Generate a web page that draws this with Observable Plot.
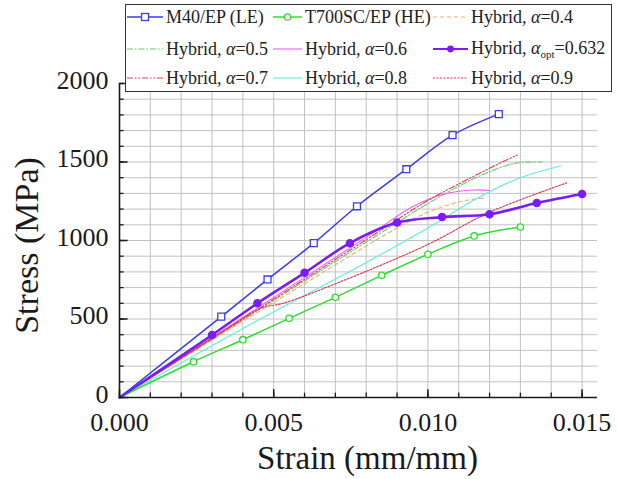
<!DOCTYPE html>
<html><head><meta charset="utf-8">
<script src="https://cdn.jsdelivr.net/npm/d3@7"></script>
<script src="https://cdn.jsdelivr.net/npm/@observablehq/plot@0.6"></script>
<style>
body{margin:0;background:#fff;}
#wrap{position:relative;width:617px;height:479px;font-family:"Liberation Serif","Times New Roman",serif;}
#legend{position:absolute;left:125px;top:4px;width:487px;height:88px;border:1.5px solid #333;background:#fff;box-sizing:border-box;}
.item{position:absolute;display:flex;align-items:center;font-size:18px;color:#222;white-space:nowrap;line-height:1;}
.item svg{margin-right:3px;}
sub{font-size:11px;vertical-align:-4px;}
</style></head><body><div id="wrap"></div>
<script>
// ---------- data ----------
const m40Strain = [0, 0.0033, 0.0048, 0.0063, 0.0077, 0.0093, 0.0108, 0.0123];
const m40Stress = [0, 515, 752, 983, 1218, 1454, 1671, 1805];
const t700Strain = [0, 0.0024, 0.0040, 0.0055, 0.0070, 0.0085, 0.0100, 0.0115, 0.0130];
const t700Stress = [0, 228, 368, 504, 638, 778, 912, 1029, 1086];
const optStrain = [0, 0.0030, 0.00447, 0.0060, 0.00747, 0.0090, 0.01046, 0.0120, 0.01353, 0.0150];
const optStress = [0, 398, 600, 794, 983, 1114, 1149, 1167, 1239, 1296];
const h04Strain = [0, 0.003, 0.006, 0.009, 0.010, 0.011, 0.0118];
const h04Stress = [0, 365, 725, 1080, 1180, 1245, 1270];
const h05Strain = [0, 0.004, 0.008, 0.010, 0.0115, 0.0125, 0.013, 0.0137];
const h05Stress = [0, 495, 990, 1235, 1395, 1475, 1497, 1500];
const h06Strain = [0, 0.004, 0.008, 0.0095, 0.0105, 0.0115, 0.012];
const h06Stress = [0, 510, 1020, 1215, 1295, 1322, 1318];
const h07Strain = [0, 0.004, 0.008, 0.010, 0.0115, 0.0122, 0.0129];
const h07Stress = [0, 500, 1005, 1255, 1410, 1480, 1545];
const h08Strain = [0, 0.004, 0.006, 0.008, 0.010, 0.0117, 0.013, 0.0143];
const h08Stress = [0, 440, 650, 860, 1080, 1280, 1400, 1475];
const h09Strain = [0, 0.0035, 0.0046, 0.0053, 0.0072, 0.010, 0.012, 0.0145];
const h09Stress = [0, 440, 570, 600, 740, 975, 1180, 1367];

const xTickVals = [0, 0.005, 0.010, 0.015];
const yTickVals = [0, 500, 1000, 1500, 2000];
const xMinorVals = d3.range(0, 0.0151, 0.001);
const yMinorVals = d3.range(0, 2001, 100);

const seriesNames = ["M40/EP (LE)", "T700SC/EP (HE)", "Hybrid, α=0.4", "Hybrid, α=0.5", "Hybrid, α=0.6",
  "Hybrid, αopt=0.632", "Hybrid, α=0.7", "Hybrid, α=0.8", "Hybrid, α=0.9"];

// ---------- styles ----------
const S = {
  m40: {stroke: "#3b3bef", width: 1.5, dash: null, marker: "square"},
  t700: {stroke: "#2fdc2f", width: 1.5, dash: null, marker: "circle"},
  h04: {stroke: "#eeb070", width: 1.1, dash: "4,3"},
  h05: {stroke: "#66cc66", width: 1.1, dash: "6,2,1.5,2"},
  h06: {stroke: "#ee5fee", width: 1.1, dash: null},
  opt: {stroke: "#7a1cf5", width: 2.6, dash: null, marker: "dot"},
  h07: {stroke: "#d83a5c", width: 1.1, dash: "6,2,1.5,2,1.5,2"},
  h08: {stroke: "#5eeedd", width: 1.1, dash: null},
  h09: {stroke: "#e0304a", width: 1.1, dash: "2,1.5"}
};

const rows = (xs, ys) => xs.map((x, i) => ({strain: x, stress: ys[i]}));
const series = [
  ["h04", rows(h04Strain, h04Stress)], ["h05", rows(h05Strain, h05Stress)], ["h06", rows(h06Strain, h06Stress)],
  ["h07", rows(h07Strain, h07Stress)], ["h08", rows(h08Strain, h08Stress)], ["h09", rows(h09Strain, h09Stress)],
  ["t700", rows(t700Strain, t700Stress)], ["opt", rows(optStrain, optStress)], ["m40", rows(m40Strain, m40Stress)]
];

const lineMarks = [];
for (const [k, data] of series) {
  const s = S[k];
  lineMarks.push(Plot.line(data, {x: "strain", y: "stress", stroke: s.stroke, strokeWidth: s.width,
    strokeDasharray: s.dash, curve: "catmull-rom"}));
  if (s.marker === "square") lineMarks.push(Plot.dot(data.slice(1), {x: "strain", y: "stress", symbol: "square", r: 3.9, stroke: s.stroke, fill: "white", strokeWidth: 1.3}));
  if (s.marker === "circle") lineMarks.push(Plot.dot(data.slice(1), {x: "strain", y: "stress", r: 3.2, stroke: s.stroke, fill: "white", strokeWidth: 1.3}));
  if (s.marker === "dot") lineMarks.push(Plot.dot(data.slice(1), {x: "strain", y: "stress", r: 3.5, fill: s.stroke, stroke: s.stroke}));
}

const ink = "#1a1a1a";
const chart = Plot.plot({
  width: 617, height: 479,
  marginLeft: 119, marginRight: 20, marginTop: 83, marginBottom: 82,
  x: {domain: [0, 0.0155], axis: null},
  y: {domain: [0, 2000], axis: null},
  style: {fontFamily: "'Liberation Serif','Times New Roman',serif", background: "white", overflow: "visible"},
  marks: [
    Plot.ruleX(xMinorVals.slice(1), {x: d => d, stroke: "#c2c2c2", strokeWidth: 1}),
    Plot.ruleY(yMinorVals.slice(1), {y: d => d, stroke: "#c2c2c2", strokeWidth: 1}),
    ...lineMarks,
    Plot.ruleY([0], {y: d => d, stroke: ink, strokeWidth: 1.6}),
    Plot.ruleX([0], {x: d => d, stroke: ink, strokeWidth: 1.6}),
    Plot.ruleX(xMinorVals, {x: d => d, y1: () => 0, y2: () => 28, stroke: ink, strokeWidth: 1.3}),
    Plot.ruleX(xTickVals, {x: d => d, y1: () => 0, y2: () => 50, stroke: ink, strokeWidth: 1.5}),
    Plot.ruleY(yMinorVals, {y: d => d, x1: () => 0, x2: () => 0.00015, stroke: ink, strokeWidth: 1.3}),
    Plot.ruleY(yTickVals, {y: d => d, x1: () => 0, x2: () => 0.00028, stroke: ink, strokeWidth: 1.5}),
    Plot.text(xTickVals, {x: d => d, y: () => 0, text: d => d3.format(".3f")(d), dy: 25, fontSize: 26, lineAnchor: "middle", fill: ink}),
    Plot.text(yTickVals, {x: () => 0, y: d => d, text: d => String(d), textAnchor: "end", lineAnchor: "middle", dx: -11, dy: -3, fontSize: 26, fill: ink}),
    Plot.text(["Strain (mm/mm)"], {frameAnchor: "bottom", text: d => d, textAnchor: "middle", lineAnchor: "middle", dx: 9, dy: 61, fontSize: 33, fill: ink}),
    Plot.text(["Stress (MPa)"], {frameAnchor: "left", text: d => d, rotate: -90, textAnchor: "middle", lineAnchor: "middle", dx: -92, dy: 5, fontSize: 34, fill: ink})
  ]
});
const wrap = document.getElementById("wrap");
wrap.appendChild(chart);

// ---------- legend ----------
const legend = document.createElement("div");
legend.id = "legend";
wrap.appendChild(legend);
const keys = ["m40", "t700", "h04", "h05", "h06", "opt", "h07", "h08", "h09"];
const colX = [[127, 36], [273, 29], [433, 35]];
const rowY = [17, 49, 78];
keys.forEach((k, i) => {
  const s = S[k];
  const [x0, w] = colX[i % 3];
  const y = rowY[Math.floor(i / 3)];
  const item = document.createElement("div");
  item.className = "item";
  item.style.left = x0 + "px";
  item.style.top = (y - 10) + "px";
  item.style.height = "20px";
  const svg = d3.create("svg").attr("width", w).attr("height", 12);
  svg.append("line").attr("x1", 0).attr("x2", w).attr("y1", 6).attr("y2", 6)
    .attr("stroke", s.stroke).attr("stroke-width", Math.min(s.width, 2)).attr("stroke-dasharray", s.dash);
  if (s.marker === "square") svg.append("rect").attr("x", w/2 - 3.5).attr("y", 2.5).attr("width", 7).attr("height", 7).attr("fill", "white").attr("stroke", s.stroke).attr("stroke-width", 1.3);
  if (s.marker === "circle") svg.append("circle").attr("cx", w/2).attr("cy", 6).attr("r", 3.2).attr("fill", "white").attr("stroke", s.stroke).attr("stroke-width", 1.3);
  if (s.marker === "dot") svg.append("circle").attr("cx", w/2).attr("cy", 6).attr("r", 3.4).attr("fill", s.stroke);
  item.appendChild(svg.node());
  const span = document.createElement("span");
  const name = seriesNames[i];
  if (name.includes("αopt")) {
    span.innerHTML = name.replace("αopt", "<i>α</i><sub>opt</sub>");
  } else {
    span.innerHTML = name.replace("α", "<i>α</i>");
  }
  item.appendChild(span);
  wrap.appendChild(item);
});
</script></body></html>
